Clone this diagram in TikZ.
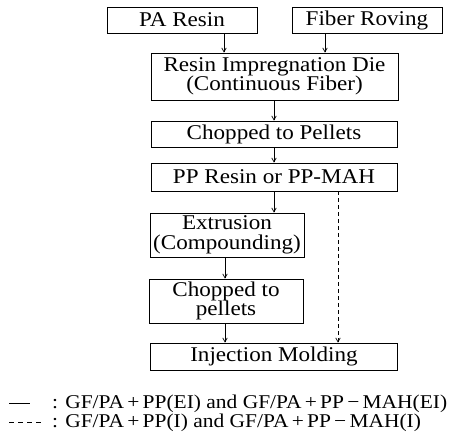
\documentclass[tikz,border=0pt]{standalone}
\usepackage{fontspec}
\setmainfont{Liberation Serif}[FakeStretch=1.1]
\usetikzlibrary{arrows.meta}
\begin{document}
\begin{tikzpicture}[x=1pt,y=-1pt,
  box/.style={draw, line width=0.8pt, inner sep=0pt, align=center, font=\fontsize{21}{19.5}\selectfont},
  arr/.style={line width=0.7pt, -{Straight Barb[length=4pt,width=4.5pt]}},
  dsh/.style={arr, dash pattern=on 4pt off 3pt},
  leg/.style={anchor=base west, inner sep=0pt, font=\fontsize{19.5}{20}\selectfont}]
\useasboundingbox (0,0) rectangle (451,444);
\node[box, minimum width=150pt, minimum height=26pt] (pa) at (182,20) {PA Resin};
\node[box, minimum width=150pt, minimum height=26pt] (fr) at (367,20) {Fiber Roving};
\node[box, minimum width=247pt, minimum height=47pt] (imp) at (274.5,76.5) {Resin Impregnation Die\\(Continuous Fiber)};
\node[box, minimum width=246pt, minimum height=26pt] (chp) at (274,134) {Chopped to Pellets};
\node[box, minimum width=246pt, minimum height=28pt] (pp) at (274,177) {PP Resin or PP-MAH};
\node[box, minimum width=154pt, minimum height=44pt] (ext) at (227,235) {Extrusion\\(Compounding)};
\node[box, minimum width=154pt, minimum height=44pt] (chp2) at (226,301) {Chopped to\\pellets};
\node[box, minimum width=247pt, minimum height=27pt] (inj) at (274,356.5) {Injection Molding};
\coordinate (xa) at (224,0);
\coordinate (xb) at (325,0);
\coordinate (xc) at (274,0);
\coordinate (xd) at (225,0);
\coordinate (xe) at (338,0);
\draw[arr] (pa.south -| xa) -- (imp.north -| xa);
\draw[arr] (fr.south -| xb) -- (imp.north -| xb);
\draw[arr] (imp.south -| xc) -- (chp.north -| xc);
\draw[arr] (chp.south -| xc) -- (pp.north -| xc);
\draw[arr] (pp.south -| xc) -- (ext.north -| xc);
\draw[arr] (ext.south -| xd) -- (chp2.north -| xd);
\draw[arr] (chp2.south -| xd) -- (inj.north -| xd);
\draw[dsh] (pp.south -| xe) -- (inj.north -| xe);
\draw[line width=0.7pt] (9,403) -- (30,403);
\draw[line width=0.7pt, dash pattern=on 5pt off 4pt] (9,422) -- (43,422);
\node[leg] (l1) at (52,409) {: GF/PA\,+\,PP(EI) and GF/PA\,+\,PP\,−\,MAH(EI)};
\node[leg] (l2) at (52,428) {: GF/PA\,+\,PP(I) and GF/PA\,+\,PP\,−\,MAH(I)};
\end{tikzpicture}
\end{document}
